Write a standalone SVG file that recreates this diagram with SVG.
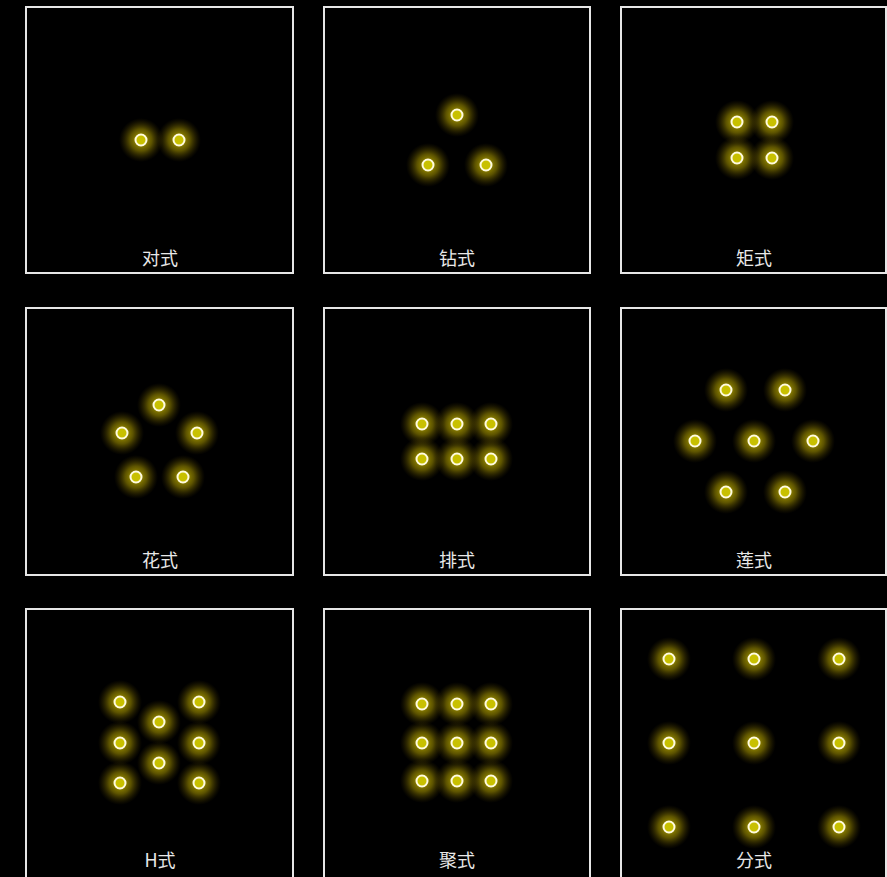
<svg xmlns="http://www.w3.org/2000/svg" width="887" height="877" viewBox="0 0 887 877">
<defs>
<radialGradient id="glow">
<stop offset="0" stop-color="#d8c800" stop-opacity="0.9"/>
<stop offset="0.5" stop-color="#9a8a00" stop-opacity="0.6"/>
<stop offset="1" stop-color="#504000" stop-opacity="0"/>
</radialGradient>
<g id="dot">
<circle r="22" fill="url(#glow)"/>
<circle r="5.5" fill="#c8c000" stroke="#fffbe0" stroke-width="2"/>
</g>
</defs>
<style>
.box{fill:#000;stroke:#e6e6e6;stroke-width:2}
.lbl{fill:#e8e8e8;font-family:"Noto Sans CJK SC","Liberation Sans",sans-serif;font-size:18px;text-anchor:middle}
</style>
<rect width="887" height="877" fill="#000"/>
<g id="n1"><rect class="box" x="26" y="7" width="267" height="266"/>
<use href="#dot" x="141" y="140"/><use href="#dot" x="179" y="140"/>
<text class="lbl" x="160" y="265">对式</text></g>
<g id="n2"><rect class="box" x="324" y="7" width="266" height="266"/>
<use href="#dot" x="457" y="115"/><use href="#dot" x="428" y="165"/><use href="#dot" x="486" y="165"/>
<text class="lbl" x="457" y="265">钻式</text></g>
<g id="n3"><rect class="box" x="621" y="7" width="265" height="266"/>
<use href="#dot" x="737" y="122"/><use href="#dot" x="772" y="122"/><use href="#dot" x="737" y="158"/><use href="#dot" x="772" y="158"/>
<text class="lbl" x="754" y="265">矩式</text></g>
<g id="n4"><rect class="box" x="26" y="308" width="267" height="267"/>
<use href="#dot" x="159" y="405"/><use href="#dot" x="122" y="433"/><use href="#dot" x="197" y="433"/><use href="#dot" x="136" y="477"/><use href="#dot" x="183" y="477"/>
<text class="lbl" x="160" y="567">花式</text></g>
<g id="n5"><rect class="box" x="324" y="308" width="266" height="267"/>
<use href="#dot" x="422" y="424"/><use href="#dot" x="457" y="424"/><use href="#dot" x="491" y="424"/><use href="#dot" x="422" y="459"/><use href="#dot" x="457" y="459"/><use href="#dot" x="491" y="459"/>
<text class="lbl" x="457" y="567">排式</text></g>
<g id="n6"><rect class="box" x="621" y="308" width="265" height="267"/>
<use href="#dot" x="726" y="390"/><use href="#dot" x="785" y="390"/><use href="#dot" x="695" y="441"/><use href="#dot" x="754" y="441"/><use href="#dot" x="813" y="441"/><use href="#dot" x="726" y="492"/><use href="#dot" x="785" y="492"/>
<text class="lbl" x="754" y="567">莲式</text></g>
<g id="n7"><rect class="box" x="26" y="609" width="267" height="270"/>
<use href="#dot" x="120" y="702"/><use href="#dot" x="199" y="702"/><use href="#dot" x="159" y="722"/><use href="#dot" x="120" y="743"/><use href="#dot" x="199" y="743"/><use href="#dot" x="159" y="763"/><use href="#dot" x="120" y="783"/><use href="#dot" x="199" y="783"/>
<text class="lbl" x="160" y="867">H式</text></g>
<g id="n8"><rect class="box" x="324" y="609" width="266" height="270"/>
<use href="#dot" x="422" y="704"/><use href="#dot" x="457" y="704"/><use href="#dot" x="491" y="704"/><use href="#dot" x="422" y="743"/><use href="#dot" x="457" y="743"/><use href="#dot" x="491" y="743"/><use href="#dot" x="422" y="781"/><use href="#dot" x="457" y="781"/><use href="#dot" x="491" y="781"/>
<text class="lbl" x="457" y="867">聚式</text></g>
<g id="n9"><rect class="box" x="621" y="609" width="265" height="270"/>
<use href="#dot" x="669" y="659"/><use href="#dot" x="754" y="659"/><use href="#dot" x="839" y="659"/><use href="#dot" x="669" y="743"/><use href="#dot" x="754" y="743"/><use href="#dot" x="839" y="743"/><use href="#dot" x="669" y="827"/><use href="#dot" x="754" y="827"/><use href="#dot" x="839" y="827"/>
<text class="lbl" x="754" y="867">分式</text></g>
<g id="connectors"/>
</svg>
